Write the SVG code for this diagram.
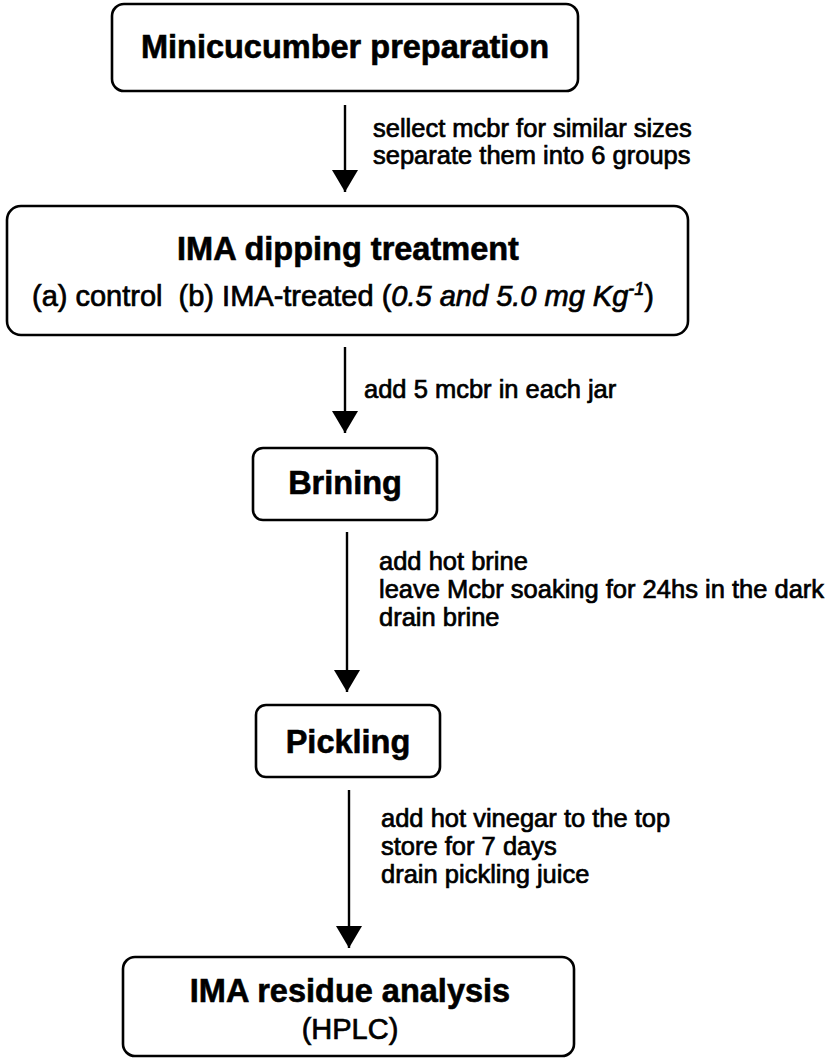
<svg xmlns="http://www.w3.org/2000/svg" width="836" height="1059" viewBox="0 0 836 1059">
<style>
  .box { fill: #fff; stroke: #000; stroke-width: 2.6; }
  .title { font-family: "Liberation Sans", Arial, sans-serif; font-weight: bold; font-size: 32.5px; fill: #000; stroke: #000; stroke-width: 0.6; text-anchor: middle; }
  .sub { font-family: "Liberation Sans", Arial, sans-serif; font-size: 29px; fill: #000; stroke: #000; stroke-width: 0.7; text-anchor: middle; }
  .lbl { font-family: "Liberation Sans", Arial, sans-serif; font-size: 25.5px; fill: #000; stroke: #000; stroke-width: 0.7; }
  .edge { fill: none; stroke: #000; stroke-width: 2.4; marker-end: url(#ah); }
</style>
<defs>
  <marker id="ah" markerUnits="userSpaceOnUse" viewBox="0 0 22 26" refX="22" refY="13" markerWidth="22" markerHeight="26" orient="auto">
    <path d="M0,0 L22,13 L0,26 Z" fill="#000"/>
  </marker>
</defs>
<rect width="836" height="1059" fill="#fff"/>

<g id="connectors">
  <line class="edge" x1="345" y1="105" x2="345" y2="192"/>
  <line class="edge" x1="345" y1="347" x2="345" y2="433"/>
  <line class="edge" x1="347" y1="532" x2="347" y2="692"/>
  <line class="edge" x1="349" y1="790" x2="349" y2="948"/>
  <text class="lbl" x="373" y="137">sellect mcbr for similar sizes</text>
  <text class="lbl" x="373" y="164">separate them into 6 groups</text>
  <text class="lbl" x="364" y="398">add 5 mcbr in each jar</text>
  <text class="lbl" x="379" y="570">add hot brine</text>
  <text class="lbl" x="379" y="598">leave Mcbr soaking for 24hs in the dark</text>
  <text class="lbl" x="379" y="626">drain brine</text>
  <text class="lbl" x="381" y="827">add hot vinegar to the top</text>
  <text class="lbl" x="381" y="855">store for 7 days</text>
  <text class="lbl" x="381" y="883">drain pickling juice</text>
</g>

<g id="node-prep">
  <rect class="box" x="112" y="4" width="466" height="87" rx="12"/>
  <text class="title" x="345" y="58">Minicucumber preparation</text>
</g>

<g id="node-dipping">
  <rect class="box" x="7" y="206" width="681" height="129" rx="14"/>
  <text class="title" x="348" y="260">IMA dipping treatment</text>
  <text class="sub" x="343" y="306">(a) control<tspan dx="8"> (b) IMA-treated (</tspan><tspan font-style="italic">0.5 and 5.0 mg Kg</tspan><tspan font-style="italic" font-size="18" dy="-11">-1</tspan><tspan dy="11">)</tspan></text>
</g>

<g id="node-brining">
  <rect class="box" x="253" y="448" width="184" height="72" rx="10"/>
  <text class="title" x="345" y="494">Brining</text>
</g>

<g id="node-pickling">
  <rect class="box" x="256" y="705" width="184" height="72" rx="10"/>
  <text class="title" x="348" y="753">Pickling</text>
</g>

<g id="node-analysis">
  <rect class="box" x="123" y="957" width="451" height="99" rx="12"/>
  <text class="title" x="350" y="1002">IMA residue analysis</text>
  <text class="sub" x="350" y="1039" font-size="30">(HPLC)</text>
</g>
</svg>
